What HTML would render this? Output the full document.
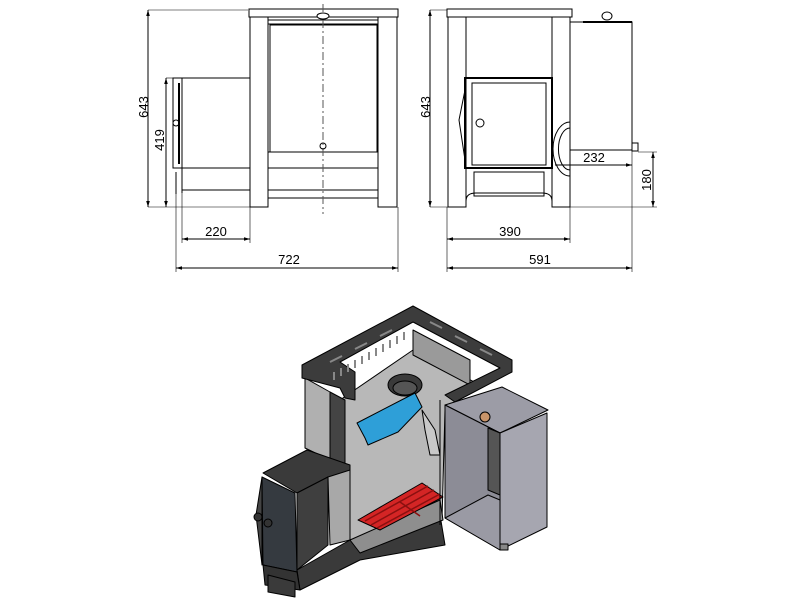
<!DOCTYPE html>
<html><head><meta charset="utf-8"><style>html,body{margin:0;padding:0;background:#fff}svg{display:block}</style></head><body>
<svg width="800" height="600" viewBox="0 0 800 600" xmlns="http://www.w3.org/2000/svg" font-family="Liberation Sans, sans-serif">
<defs>
<marker id="a" viewBox="0 0 10 10" refX="10" refY="5" markerWidth="6" markerHeight="6" orient="auto-start-reverse"><path d="M0,2 L10,5 L0,8 z" fill="#000"/></marker>
</defs>
<g fill="none" stroke="#000" stroke-width="1">
<!-- LEFT VIEW -->
<rect x="249" y="9" width="149" height="8"/>
<rect x="250" y="17" width="18" height="190"/>
<rect x="378" y="17" width="19" height="190"/>
<rect x="268" y="20" width="110" height="4"/>
<rect x="270" y="25" width="107" height="127"/>
<line x1="268" y1="152" x2="378" y2="152"/>
<line x1="268" y1="168" x2="378" y2="168"/>
<rect x="268" y="190" width="110" height="8"/>
<rect x="182" y="78" width="68" height="90"/>
<line x1="182" y1="168" x2="182" y2="193"/>
<line x1="182" y1="190" x2="250" y2="190"/>
<rect x="173" y="78" width="9" height="90"/>
<line x1="179" y1="83" x2="179" y2="164" stroke-width="2"/>
<ellipse cx="176" cy="123" rx="3" ry="3"/>
<path d="M176,172 v22"/>
<line x1="323" y1="4" x2="323" y2="214" stroke-dasharray="8,3,2,3" stroke="#555"/>
<ellipse cx="323" cy="16" rx="6" ry="3" fill="#fff"/>
<circle cx="323" cy="146" r="3"/>
<line x1="148" y1="10" x2="248" y2="10" stroke-width="0.6"/>
<line x1="148" y1="207" x2="250" y2="207" stroke-width="0.6"/>
<line x1="148" y1="10" x2="148" y2="207" marker-start="url(#a)" marker-end="url(#a)"/>
<line x1="166" y1="78" x2="173" y2="78" stroke-width="0.6"/>
<line x1="166" y1="78" x2="166" y2="207" marker-start="url(#a)" marker-end="url(#a)"/>
<line x1="182" y1="193" x2="182" y2="243" stroke-width="0.6"/>
<line x1="250" y1="207" x2="250" y2="243" stroke-width="0.6"/>
<line x1="182" y1="239" x2="250" y2="239" marker-start="url(#a)" marker-end="url(#a)"/>
<line x1="176" y1="172" x2="176" y2="272" stroke-width="0.6"/>
<line x1="398" y1="207" x2="398" y2="272" stroke-width="0.6"/>
<line x1="176" y1="268" x2="398" y2="268" marker-start="url(#a)" marker-end="url(#a)"/>
<!-- RIGHT VIEW -->
<rect x="447" y="9" width="125" height="8"/>
<rect x="448" y="17" width="18" height="190"/>
<rect x="552" y="17" width="18" height="190"/>
<path d="M466,207 v-6 q0,-8 10,-8 h66 q10,0 10,8 v6"/>
<rect x="465" y="78" width="87" height="90" stroke-width="2"/>
<rect x="472" y="83" width="74" height="82"/>
<path d="M465,90 l-6,30 6,40"/>
<circle cx="480" cy="123" r="4"/>
<rect x="474" y="172" width="70" height="24"/>
<rect x="570" y="22" width="62" height="128"/>
<line x1="583" y1="22" x2="632" y2="22" stroke-width="2"/>
<ellipse cx="607" cy="16" rx="5" ry="4" fill="#fff"/>
<rect x="632" y="143" width="6" height="8"/>
<path d="M570,122 a17,27 0 0,0 0,54"/>
<path d="M570,128 a11,20 0 0,0 0,42"/>
<line x1="430" y1="10" x2="447" y2="10" stroke-width="0.6"/>
<line x1="430" y1="207" x2="448" y2="207" stroke-width="0.6"/>
<line x1="430" y1="10" x2="430" y2="207" marker-start="url(#a)" marker-end="url(#a)"/>
<line x1="555" y1="165" x2="632" y2="165" marker-end="url(#a)"/>
<line x1="632" y1="150" x2="632" y2="272" stroke-width="0.6"/>
<line x1="638" y1="152" x2="657" y2="152" stroke-width="0.6"/>
<line x1="570" y1="207" x2="657" y2="207" stroke-width="0.6"/>
<line x1="653" y1="152" x2="653" y2="207" marker-start="url(#a)" marker-end="url(#a)"/>
<line x1="447" y1="207" x2="447" y2="272" stroke-width="0.6"/>
<line x1="570" y1="207" x2="570" y2="243" stroke-width="0.6"/>
<line x1="447" y1="239" x2="570" y2="239" marker-start="url(#a)" marker-end="url(#a)"/>
<line x1="447" y1="268" x2="632" y2="268" marker-start="url(#a)" marker-end="url(#a)"/>
</g>
<g font-size="13" fill="#000" text-anchor="middle">
<text transform="translate(148,107) rotate(-90)">643</text>
<text transform="translate(164,140) rotate(-90)">419</text>
<text x="216" y="236">220</text>
<text x="289" y="264">722</text>
<text transform="translate(430,107) rotate(-90)">643</text>
<text x="594" y="162">232</text>
<text transform="translate(651,180) rotate(-90)">180</text>
<text x="510" y="236">390</text>
<text x="540" y="264">591</text>
</g>
<!-- 3D -->
<g stroke="#000" stroke-width="1" stroke-linejoin="round">
<polygon points="340,400 413,350 480,385 445,410 442,520 350,540 345,470" fill="#b8b8b8"/>
<polygon points="413,330 470,360 470,385 413,355" fill="#9a9a9a"/>
<polygon points="305,378 330,392 330,460 305,448" fill="#b0b0b0"/>
<polygon points="330,392 345,400 345,470 330,460" fill="#444"/>
<polygon points="302,365 413,306 512,360 512,372 455,402 445,395 500,368 413,322 340,362 355,372 355,400 345,398 340,388 302,378" fill="#3c3c3c"/>
<g stroke="#888" stroke-width="2">
<line x1="334" y1="380" x2="334" y2="372"/><line x1="341" y1="376" x2="341" y2="368"/><line x1="348" y1="372" x2="348" y2="364"/><line x1="355" y1="368" x2="355" y2="360"/><line x1="362" y1="364" x2="362" y2="356"/><line x1="369" y1="360" x2="369" y2="352"/><line x1="376" y1="356" x2="376" y2="348"/><line x1="383" y1="352" x2="383" y2="344"/><line x1="390" y1="348" x2="390" y2="340"/><line x1="397" y1="344" x2="397" y2="336"/><line x1="404" y1="340" x2="404" y2="332"/>
<line x1="330" y1="362" x2="342" y2="356"/><line x1="355" y1="349" x2="367" y2="343"/><line x1="380" y1="336" x2="392" y2="330"/><line x1="430" y1="322" x2="442" y2="328"/><line x1="455" y1="336" x2="467" y2="342"/><line x1="480" y1="349" x2="492" y2="355"/>
</g>
<ellipse cx="405" cy="385" rx="17" ry="11" fill="#3a3a3a"/>
<ellipse cx="405" cy="388" rx="12" ry="7" fill="#555"/>
<polygon points="357,423 415,393 422,407 398,432 368,445 365,438" fill="#2e9fd8"/>
<polygon points="422,410 435,430 440,455 430,455 425,430" fill="#c8c8c8"/>
<polygon points="263,473 307,450 350,465 350,480 328,477 297,493" fill="#3a3a3a"/>
<polygon points="297,493 328,477 328,545 297,570" fill="#3f3f3f"/>
<polygon points="328,477 350,470 350,540 330,545" fill="#a8a8a8"/>
<polygon points="262,477 295,493 297,572 263,565" fill="#353a40"/>
<polygon points="262,477 256,515 262,565" fill="#444"/>
<circle cx="258" cy="517" r="4" fill="#333"/><circle cx="268" cy="523" r="4" fill="#333"/>
<polygon points="297,570 350,540 440,515 445,545 360,560 300,590" fill="#3a3a3a"/>
<polygon points="263,565 297,572 300,590 265,585" fill="#333"/>
<polygon points="268,575 295,582 295,597 268,592" fill="#3a3a3a"/>
<polygon points="350,540 440,500 443,520 360,553" fill="#8e8e8e"/>
<polygon points="358,520 422,483 443,497 380,530" fill="#d42525"/>
<g stroke="#8a1010" stroke-width="1.5"><line x1="365" y1="521" x2="428" y2="486"/><line x1="371" y1="525" x2="434" y2="490"/><line x1="377" y1="528" x2="440" y2="494"/><line x1="400" y1="502" x2="420" y2="516"/></g>
<polygon points="445,405 502,387 548,410 500,433" fill="#9c9ca6"/>
<polygon points="445,405 500,433 500,550 445,518" fill="#8c8c96"/>
<polygon points="488,428 500,433 500,495 488,490" fill="#555"/>
<polygon points="445,518 488,495 500,500 500,550" fill="#9a9aa4"/>
<polygon points="500,433 547,413 547,527 500,550" fill="#a6a6b0"/>
<line x1="440" y1="400" x2="440" y2="525"/>
<circle cx="485" cy="417" r="5" fill="#c8946a"/>
<rect x="500" y="544" width="8" height="6" fill="#888"/>
</g>
</svg>
</body></html>
